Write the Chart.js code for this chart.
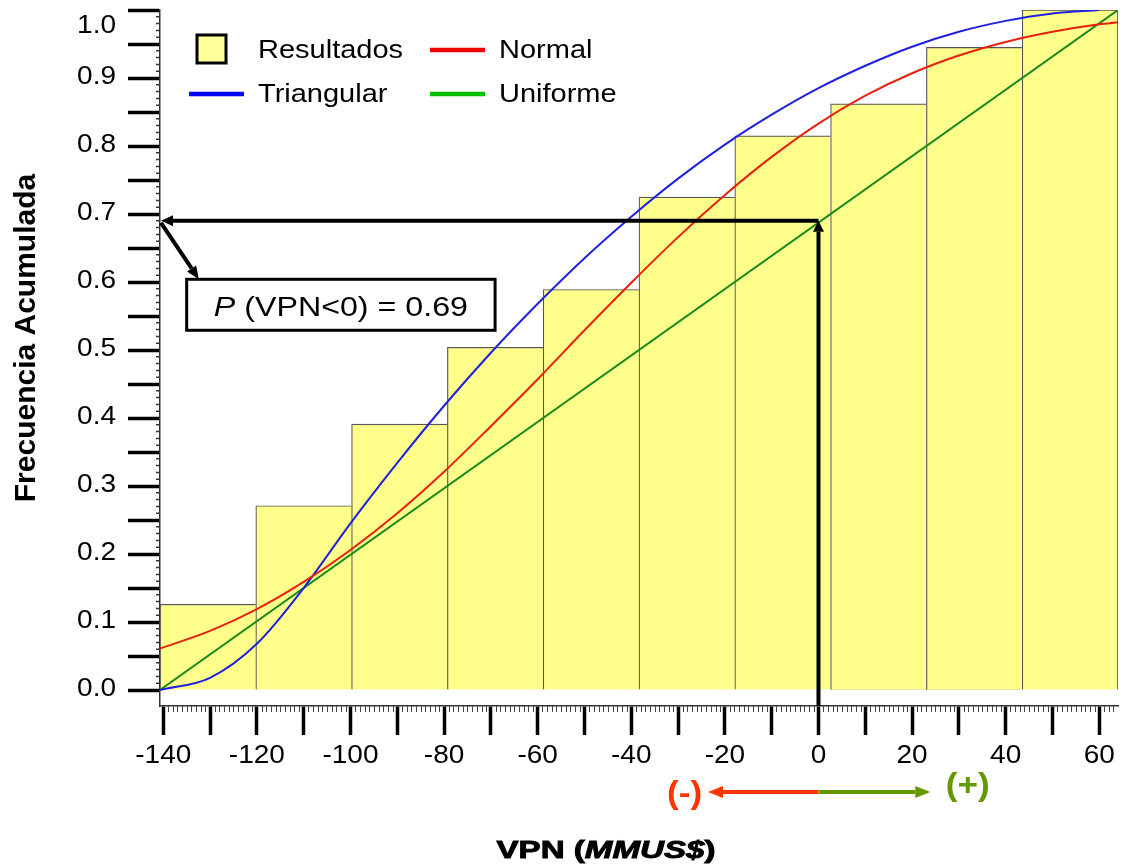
<!DOCTYPE html>
<html>
<head>
<meta charset="utf-8">
<script src="https://cdn.jsdelivr.net/npm/chart.js@4.4.1/dist/chart.umd.min.js"></script>
<style>
  html, body { margin: 0; padding: 0; background: #fff; }
  #wrap { width: 1122px; height: 868px; position: relative; }
</style>
</head>
<body>
<div id="wrap"><canvas id="chart"></canvas></div>
<script>
// Simulated VPN results: histogram bins (MMUS$) and cumulative frequency
const binEdges = [-140.7, -120.23, -99.76, -79.29, -58.82, -38.35, -17.88, 2.59, 23.06, 43.53, 64.0];
const cumFreq  = [0.126, 0.271, 0.391, 0.504, 0.589, 0.725, 0.815, 0.862, 0.945, 1.0];

// Fitted cumulative distributions
const curveX     = [-140.7, -130, -120, -110, -100, -90, -80, -70, -60, -50, -40, -30, -20, -10, 0, 10, 20, 30, 40, 50, 60, 64];
const normalCdf  = [0.061, 0.087, 0.119, 0.159, 0.206, 0.260, 0.321, 0.388, 0.457, 0.529, 0.599, 0.666, 0.728, 0.784, 0.833, 0.874, 0.907, 0.933, 0.953, 0.968, 0.979, 0.982];
const triangX    = [-140.7, -130, -120, -110, -100, -90, -80, -70, -60, -50, -40, -30, -20, -10, 0, 10, 20, 30, 40, 50, 60];
const triangCdf  = [0, 0.018, 0.068, 0.150, 0.245, 0.334, 0.418, 0.496, 0.568, 0.635, 0.696, 0.752, 0.802, 0.846, 0.885, 0.918, 0.946, 0.968, 0.984, 0.995, 1.0];
const uniformX   = [-140.7, 64.0];
const uniformCdf = [0, 1.0];

// Probability of a negative VPN, read at VPN = 0
const pNegative = 0.69;
const vpnZero = 0;

// Axis ticks
const xTicks  = [-140, -130, -120, -110, -100, -90, -80, -70, -60, -50, -40, -30, -20, -10, 0, 10, 20, 30, 40, 50, 60];
const xLabels = [-140, -120, -100, -80, -60, -40, -20, 0, 20, 40, 60];
const yTicks  = [0, 0.05, 0.1, 0.15, 0.2, 0.25, 0.3, 0.35, 0.4, 0.45, 0.5, 0.55, 0.6, 0.65, 0.7, 0.75, 0.8, 0.85, 0.9, 0.95, 1.0];
const yLabels = ['0.0', '0.1', '0.2', '0.3', '0.4', '0.5', '0.6', '0.7', '0.8', '0.9', '1.0'];
const yFloor = -0.0235;

const FONT = "'Liberation Sans', Arial, sans-serif";

function stretchedText(ctx, text, x, y, align, sx) {
  ctx.save();
  ctx.translate(x, y);
  ctx.scale(sx, 1);
  ctx.textAlign = align;
  ctx.fillText(text, 0, 0);
  ctx.restore();
}

// mixed-font text centred on cx
function richText(ctx, parts, cx, y, sx, heavy) {
  ctx.save();
  let total = 0;
  parts.forEach(p => { ctx.font = p.font; p.w = ctx.measureText(p.text).width; total += p.w; });
  ctx.translate(cx - total * sx / 2, y);
  ctx.scale(sx, 1);
  ctx.textAlign = 'left';
  ctx.strokeStyle = ctx.fillStyle;
  ctx.lineWidth = heavy || 0;
  let x = 0;
  parts.forEach(p => {
    ctx.font = p.font;
    ctx.fillText(p.text, x, 0);
    if (heavy) ctx.strokeText(p.text, x, 0);
    x += p.w;
  });
  ctx.restore();
}

function arrow(ctx, x1, y1, x2, y2, color, lw, headLen, headW) {
  const a = Math.atan2(y2 - y1, x2 - x1);
  const bx = x2 - headLen * Math.cos(a), by = y2 - headLen * Math.sin(a);
  ctx.save();
  ctx.strokeStyle = color; ctx.fillStyle = color; ctx.lineWidth = lw;
  ctx.beginPath(); ctx.moveTo(x1, y1); ctx.lineTo(bx, by); ctx.stroke();
  ctx.beginPath();
  ctx.moveTo(x2, y2);
  ctx.lineTo(bx + headW / 2 * Math.sin(a), by - headW / 2 * Math.cos(a));
  ctx.lineTo(bx - headW / 2 * Math.sin(a), by + headW / 2 * Math.cos(a));
  ctx.closePath(); ctx.fill();
  ctx.restore();
}

const legendItems = [
  { label: 'Resultados', kind: 'box',  color: '#ffff99', col: 0, row: 0 },
  { label: 'Normal',     kind: 'line', color: '#f00000', col: 1, row: 0 },
  { label: 'Triangular', kind: 'line', color: '#0000ff', col: 0, row: 1 },
  { label: 'Uniforme',   kind: 'line', color: '#00c000', col: 1, row: 1 }
];

const decor = {
  id: 'decor',
  afterDraw(chart) {
    const { ctx, chartArea: ca, scales: { x, y } } = chart;

    // minor ticks
    ctx.save();
    ctx.strokeStyle = '#333';
    ctx.lineWidth = 1.5;
    ctx.beginPath();
    for (let i = 1; i < 100; i++) {
      if (i % 5 === 0) continue;
      const py = y.getPixelForValue(i / 100);
      ctx.moveTo(ca.left - 4, py); ctx.lineTo(ca.left, py);
    }
    ctx.stroke();
    ctx.lineWidth = 1;
    ctx.strokeStyle = '#444';
    ctx.beginPath();
    for (let v = -140; v <= 63; v++) {
      if (v % 10 === 0) continue;
      const px = Math.round(x.getPixelForValue(v)) + 0.5;
      ctx.moveTo(px, ca.bottom); ctx.lineTo(px, ca.bottom + 6);
    }
    ctx.stroke();
    ctx.restore();

    // tick labels
    ctx.save();
    ctx.fillStyle = '#000';
    ctx.font = '25px ' + FONT;
    ctx.textBaseline = 'alphabetic';
    xLabels.forEach(v => stretchedText(ctx, String(v), x.getPixelForValue(v), ca.bottom + 57, 'center', 1.12));
    yLabels.forEach(t => {
      const py = y.getPixelForValue(parseFloat(t));
      stretchedText(ctx, t, 116, py + (t === '1.0' ? 23 : 6), 'right', 1.12);
    });

    // axis titles
    ctx.save();
    ctx.translate(35, 338);
    ctx.rotate(-Math.PI / 2);
    ctx.font = 'bold 30px ' + FONT;
    ctx.textAlign = 'center';
    ctx.fillText('Frecuencia Acumulada', 0, 0);
    ctx.restore();
    richText(ctx, [
      { text: 'VPN (', font: 'bold 24px ' + FONT },
      { text: 'MMUS$', font: 'italic bold 24px ' + FONT },
      { text: ')', font: 'bold 24px ' + FONT }
    ], 606, 858, 1.38, 0.9);
    ctx.restore();

    // legend
    ctx.save();
    ctx.font = '25px ' + FONT;
    ctx.fillStyle = '#000';
    legendItems.forEach(it => {
      const lx = ca.left + 29 + it.col * 241;
      const cy = ca.top + 40 + it.row * 44;
      if (it.kind === 'box') {
        ctx.fillStyle = it.color;
        ctx.fillRect(lx + 8, cy - 15, 29, 28);
        ctx.lineWidth = 3; ctx.strokeStyle = '#000';
        ctx.strokeRect(lx + 8, cy - 15, 29, 28);
      } else {
        ctx.strokeStyle = it.color; ctx.lineWidth = 4.5;
        ctx.beginPath(); ctx.moveTo(lx, cy); ctx.lineTo(lx + 55, cy); ctx.stroke();
      }
      ctx.fillStyle = '#000';
      stretchedText(ctx, it.label, lx + 69, cy + 8, 'left', 1.16);
    });
    ctx.restore();

    // P(VPN<0) guide: up from VPN = 0, across to the probability axis
    const px0 = x.getPixelForValue(vpnZero);
    const pyP = y.getPixelForValue(pNegative);
    arrow(ctx, px0, ca.bottom, px0, pyP, '#000', 4, 11, 11);
    arrow(ctx, px0, pyP, ca.left + 1, pyP, '#000', 4, 12, 11);

    // call-out box
    const bx1 = x.getPixelForValue(-135), bx2 = x.getPixelForValue(-69.1);
    const by1 = y.getPixelForValue(0.604), by2 = y.getPixelForValue(0.529);
    arrow(ctx, ca.left + 1, pyP + 2, x.getPixelForValue(-132.4), by1, '#000', 4, 13, 11);
    ctx.save();
    ctx.fillStyle = '#fff';
    ctx.fillRect(bx1, by1, bx2 - bx1, by2 - by1);
    ctx.lineWidth = 3; ctx.strokeStyle = '#000';
    ctx.strokeRect(bx1, by1, bx2 - bx1, by2 - by1);
    ctx.fillStyle = '#000';
    richText(ctx, [
      { text: 'P', font: 'italic 28px ' + FONT },
      { text: ' (VPN<0) = ' + pNegative.toFixed(2), font: '28px ' + FONT }
    ], (bx1 + bx2) / 2, (by1 + by2) / 2 + 11, 1.15);
    ctx.restore();

    // sign arrows below the axis
    const ay = ca.bottom + 86;
    arrow(ctx, px0, ay, x.getPixelForValue(-23.6), ay, '#ff3300', 4, 15, 12);
    arrow(ctx, px0, ay, x.getPixelForValue(23.9), ay, '#669900', 4, 15, 12);
    ctx.save();
    ctx.font = 'bold 32px ' + FONT;
    ctx.fillStyle = '#ff3300';
    stretchedText(ctx, '(-)', x.getPixelForValue(-28.6), ca.bottom + 97, 'center', 1.1);
    ctx.fillStyle = '#669900';
    stretchedText(ctx, '(+)', x.getPixelForValue(31.9), ca.bottom + 89, 'center', 1.1);
    ctx.restore();
  }
};

const lastBin = cumFreq.length - 1;

new Chart(document.getElementById('chart'), {
  type: 'bar',
  data: {
    datasets: [
      {
        type: 'line', label: 'Normal', xAxisID: 'x', order: 1,
        data: curveX.map((v, i) => ({ x: v, y: normalCdf[i] })),
        borderColor: '#e8200c', borderWidth: 2, pointRadius: 0,
        cubicInterpolationMode: 'monotone'
      },
      {
        type: 'line', label: 'Triangular', xAxisID: 'x', order: 1,
        data: triangX.map((v, i) => ({ x: v, y: triangCdf[i] })),
        borderColor: '#2020e0', borderWidth: 2, pointRadius: 0,
        cubicInterpolationMode: 'monotone'
      },
      {
        type: 'line', label: 'Uniforme', xAxisID: 'x', order: 1,
        data: uniformX.map((v, i) => ({ x: v, y: uniformCdf[i] })),
        borderColor: '#1a8a1a', borderWidth: 2, pointRadius: 0
      },
      {
        type: 'bar', label: 'Resultados', xAxisID: 'xb', order: 2,
        data: cumFreq.map((v, i) => ({ x: (binEdges[i] + binEdges[i + 1]) / 2, y: v })),
        backgroundColor: '#ffff8c',
        borderColor: '#555',
        borderWidth: c => c.dataIndex === lastBin ? { top: 1.2, left: 1.2, right: 1.2, bottom: 0 } : { top: 1.2, left: 1.2, right: 0, bottom: 0 },
        grouped: false,
        barPercentage: 1, categoryPercentage: 1
      }
    ]
  },
  options: {
    responsive: true,
    maintainAspectRatio: false,
    animation: false,
    devicePixelRatio: 1,
    layout: { padding: { top: 10, right: 4, left: 0, bottom: 0 } },
    plugins: { legend: { display: false }, tooltip: { enabled: false } },
    scales: {
      x: {
        type: 'linear', position: 'bottom', offset: false,
        min: binEdges[0], max: binEdges[binEdges.length - 1],
        afterBuildTicks: s => { s.ticks = xTicks.map(v => ({ value: v })); },
        afterFit: s => { s.height = 162; },
        ticks: { display: false },
        grid: { offset: false, drawOnChartArea: false, drawTicks: true, tickLength: 29, tickWidth: 3.5, tickColor: '#000' },
        border: { color: '#333', width: 1.5 }
      },
      xb: {
        type: 'linear', position: 'bottom', display: false, offset: false,
        min: binEdges[0], max: binEdges[binEdges.length - 1],
        grid: { offset: false },
        afterBuildTicks: s => { s.ticks = binEdges.map(v => ({ value: v })); }
      },
      y: {
        type: 'linear', position: 'left',
        min: yFloor, max: 1.0,
        afterBuildTicks: s => { s.ticks = yTicks.map(v => ({ value: v })); },
        afterFit: s => { s.width = 160; },
        ticks: { display: false },
        grid: { drawOnChartArea: false, drawTicks: true, tickLength: 32, tickWidth: 3.5, tickColor: '#000' },
        border: { color: '#333', width: 1.5 }
      }
    }
  },
  plugins: [decor]
});
</script>
</body>
</html>
